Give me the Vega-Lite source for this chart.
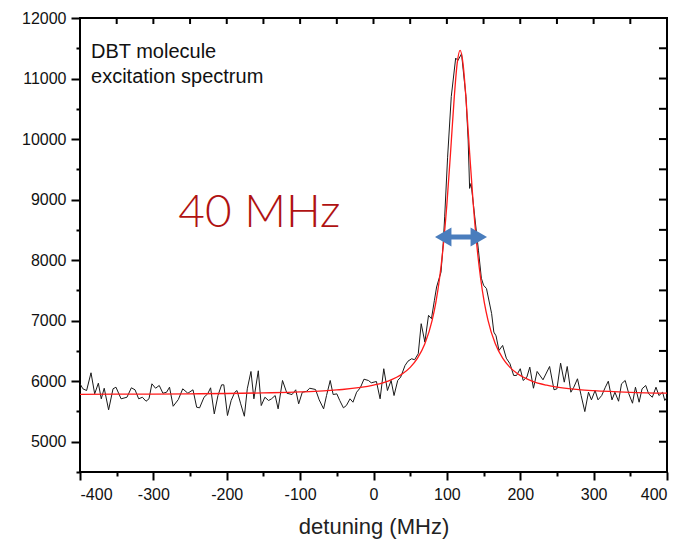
{
  "$schema": "https://vega.github.io/schema/vega-lite/v6.json",
  "width": 587,
  "height": 454,
  "autosize": "none",
  "padding": {"left": 80, "top": 18, "right": 16, "bottom": 68},
  "background": "white",
  "config": {
    "view": {"stroke": "#000", "strokeWidth": 2},
    "axis": {"domain": false, "grid": false, "tickColor": "#000", "labelColor": "#111", "labelFont": "Liberation Sans", "titleFont": "Liberation Sans", "titleFontWeight": "normal", "titleColor": "#222", "labelExpr": "'' + datum.value"}
  },
  "datasets": {
    "spec": [
      {"d": -400, "v": 5957}, {"d": -396, "v": 5874}, {"d": -391, "v": 5846}, {"d": -385, "v": 6139}, {"d": -380, "v": 5791},
      {"d": -375, "v": 5967}, {"d": -371, "v": 5709}, {"d": -367, "v": 5884}, {"d": -361, "v": 5527}, {"d": -355, "v": 5874},
      {"d": -351, "v": 5901}, {"d": -344, "v": 5709}, {"d": -336, "v": 5735}, {"d": -330, "v": 5891}, {"d": -325, "v": 5858},
      {"d": -320, "v": 5709}, {"d": -315, "v": 5735}, {"d": -310, "v": 5669}, {"d": -306, "v": 5709}, {"d": -302, "v": 5957},
      {"d": -297, "v": 5884}, {"d": -292, "v": 5929}, {"d": -287, "v": 5801}, {"d": -282, "v": 5818}, {"d": -278, "v": 5901},
      {"d": -273, "v": 5586}, {"d": -266, "v": 5697}, {"d": -260, "v": 5874}, {"d": -253, "v": 5801}, {"d": -246, "v": 5858},
      {"d": -241, "v": 5570}, {"d": -237, "v": 5560}, {"d": -231, "v": 5735}, {"d": -226, "v": 5791}, {"d": -222, "v": 5891},
      {"d": -217, "v": 5460}, {"d": -212, "v": 5763}, {"d": -207, "v": 5940}, {"d": -204, "v": 5940}, {"d": -199, "v": 5433},
      {"d": -194, "v": 5681}, {"d": -189, "v": 5818}, {"d": -186, "v": 5846}, {"d": -181, "v": 5626}, {"d": -176, "v": 5421},
      {"d": -172, "v": 5874}, {"d": -167, "v": 6161}, {"d": -163, "v": 5709}, {"d": -157, "v": 6172}, {"d": -153, "v": 5598},
      {"d": -148, "v": 5735}, {"d": -143, "v": 5681}, {"d": -139, "v": 5709}, {"d": -134, "v": 5763}, {"d": -130, "v": 5543},
      {"d": -124, "v": 6012}, {"d": -118, "v": 5801}, {"d": -111, "v": 5780}, {"d": -106, "v": 5858}, {"d": -102, "v": 5626},
      {"d": -97, "v": 5818}, {"d": -91, "v": 5834}, {"d": -87, "v": 5884}, {"d": -79, "v": 5863}, {"d": -74, "v": 5692},
      {"d": -68, "v": 5543}, {"d": -64, "v": 5763}, {"d": -59, "v": 6012}, {"d": -55, "v": 5780}, {"d": -50, "v": 5791},
      {"d": -46, "v": 5681}, {"d": -41, "v": 5560}, {"d": -37, "v": 5598}, {"d": -32, "v": 5709}, {"d": -28, "v": 5653},
      {"d": -23, "v": 5818}, {"d": -18, "v": 5891}, {"d": -13, "v": 6033}, {"d": -7, "v": 6012}, {"d": -3, "v": 5974},
      {"d": 4, "v": 5995}, {"d": 9, "v": 5709}, {"d": 14, "v": 6206}, {"d": 19, "v": 5846}, {"d": 24, "v": 6012},
      {"d": 28, "v": 5763}, {"d": 33, "v": 6012}, {"d": 37, "v": 6067}, {"d": 43, "v": 6260}, {"d": 47, "v": 6331},
      {"d": 52, "v": 6371}, {"d": 56, "v": 6354}, {"d": 61, "v": 6454}, {"d": 65, "v": 6950}, {"d": 70, "v": 6646},
      {"d": 75, "v": 7088}, {"d": 79, "v": 7033}, {"d": 83, "v": 7336}, {"d": 86, "v": 7556}, {"d": 90, "v": 7722},
      {"d": 92, "v": 7800}, {"d": 95, "v": 8275}, {"d": 97, "v": 8715}, {"d": 101, "v": 9700}, {"d": 106, "v": 10702},
      {"d": 112, "v": 11338}, {"d": 115, "v": 11298}, {"d": 120, "v": 11409}, {"d": 126, "v": 10702}, {"d": 129, "v": 9985},
      {"d": 131, "v": 9185}, {"d": 133, "v": 9268}, {"d": 138, "v": 8715}, {"d": 143, "v": 8164}, {"d": 147, "v": 7700},
      {"d": 150, "v": 7585}, {"d": 154, "v": 7530}, {"d": 161, "v": 7116}, {"d": 164, "v": 6811}, {"d": 167, "v": 6750},
      {"d": 171, "v": 6508}, {"d": 176, "v": 6591}, {"d": 181, "v": 6380}, {"d": 186, "v": 6288}, {"d": 191, "v": 6095},
      {"d": 195, "v": 6095}, {"d": 200, "v": 6206}, {"d": 204, "v": 6012}, {"d": 209, "v": 6067}, {"d": 213, "v": 6232},
      {"d": 218, "v": 5884}, {"d": 223, "v": 6161}, {"d": 231, "v": 6023}, {"d": 240, "v": 6243}, {"d": 246, "v": 5858},
      {"d": 250, "v": 5874}, {"d": 255, "v": 6298}, {"d": 260, "v": 5984}, {"d": 264, "v": 6243}, {"d": 269, "v": 5818},
      {"d": 273, "v": 5901}, {"d": 278, "v": 6040}, {"d": 283, "v": 5763}, {"d": 288, "v": 5498}, {"d": 293, "v": 5818},
      {"d": 297, "v": 5692}, {"d": 302, "v": 5846}, {"d": 306, "v": 5692}, {"d": 311, "v": 5763}, {"d": 316, "v": 5901},
      {"d": 320, "v": 6000}, {"d": 325, "v": 5692}, {"d": 329, "v": 5818}, {"d": 334, "v": 5669}, {"d": 338, "v": 5957},
      {"d": 343, "v": 6012}, {"d": 348, "v": 5791}, {"d": 353, "v": 5636}, {"d": 357, "v": 5901}, {"d": 362, "v": 5653},
      {"d": 366, "v": 5874}, {"d": 371, "v": 5929}, {"d": 375, "v": 5791}, {"d": 380, "v": 5735}, {"d": 385, "v": 5901},
      {"d": 389, "v": 5763}, {"d": 394, "v": 5818}, {"d": 397, "v": 5681}, {"d": 400, "v": 5735}
    ],
    "fit": [
      {"d": -400, "v": 5783}, {"d": -350, "v": 5785}, {"d": -300, "v": 5788}, {"d": -250, "v": 5792}, {"d": -200, "v": 5797},
      {"d": -150, "v": 5807}, {"d": -100, "v": 5822}, {"d": -50, "v": 5855}, {"d": 0, "v": 5934}, {"d": 20, "v": 6002},
      {"d": 40, "v": 6126}, {"d": 50, "v": 6228}, {"d": 60, "v": 6380}, {"d": 70, "v": 6617}, {"d": 80, "v": 7009},
      {"d": 85, "v": 7303}, {"d": 90, "v": 7697}, {"d": 95, "v": 8225}, {"d": 100, "v": 8919}, {"d": 105, "v": 9775},
      {"d": 110, "v": 10680}, {"d": 114, "v": 11246}, {"d": 118, "v": 11465}, {"d": 122, "v": 11246}, {"d": 126, "v": 10680},
      {"d": 131, "v": 9775}, {"d": 136, "v": 8919}, {"d": 141, "v": 8225}, {"d": 146, "v": 7697}, {"d": 151, "v": 7303},
      {"d": 156, "v": 7009}, {"d": 166, "v": 6617}, {"d": 176, "v": 6380}, {"d": 186, "v": 6228}, {"d": 196, "v": 6126},
      {"d": 216, "v": 6002}, {"d": 236, "v": 5934}, {"d": 260, "v": 5886}, {"d": 280, "v": 5860}, {"d": 300, "v": 5843},
      {"d": 350, "v": 5817}, {"d": 400, "v": 5803}
    ],
    "topticks": [
      {"x": -350, "y": 12000}, {"x": -300, "y": 12000}, {"x": -250, "y": 12000}, {"x": -200, "y": 12000}, {"x": -150, "y": 12000},
      {"x": -100, "y": 12000}, {"x": -50, "y": 12000}, {"x": 0, "y": 12000}, {"x": 50, "y": 12000}, {"x": 100, "y": 12000},
      {"x": 150, "y": 12000}, {"x": 200, "y": 12000}, {"x": 250, "y": 12000}, {"x": 300, "y": 12000}, {"x": 350, "y": 12000}
    ],
    "rightticks": [
      {"x": 400, "y": 5000}, {"x": 400, "y": 5500}, {"x": 400, "y": 6000}, {"x": 400, "y": 6500}, {"x": 400, "y": 7000},
      {"x": 400, "y": 7500}, {"x": 400, "y": 8000}, {"x": 400, "y": 8500}, {"x": 400, "y": 9000}, {"x": 400, "y": 9500},
      {"x": 400, "y": 10000}, {"x": 400, "y": 10500}, {"x": 400, "y": 11000}, {"x": 400, "y": 11500}
    ],
    "shaft": [{"x": 95, "y": 8384}, {"x": 144, "y": 8384}],
    "headl": [{"x": 95, "y": 8384}],
    "headr": [{"x": 143.5, "y": 8384}],
    "notes": [{"x": -385, "y": 11338, "t": "DBT molecule"}, {"x": -385, "y": 10924, "t": "excitation spectrum"}],
    "big": [{"x": -266, "y": 8550, "t": "40 MHz"}]
  },
  "resolve": {"scale": {"x": "independent", "y": "independent"}, "axis": {"x": "independent", "y": "independent"}},
  "layer": [
    {
      "data": {"name": "spec"},
      "mark": {"type": "line", "color": "#1a1a1a", "strokeWidth": 1, "clip": true},
      "encoding": {
        "x": {"field": "d", "type": "quantitative", "scale": {"domain": [-400, 400], "nice": false, "zero": false},
          "axis": {"orient": "bottom", "values": [-350, -250, -150, -50, 50, 150, 250, 350], "labels": false, "tickSize": 4, "tickWidth": 2, "tickColor": "#000", "title": null}},
        "y": {"field": "v", "type": "quantitative", "scale": {"domain": [4500, 12000], "nice": false, "zero": false},
          "axis": {"orient": "left", "values": [4500, 5500, 6500, 7500, 8500, 9500, 10500, 11500], "labels": false, "tickSize": 4, "tickWidth": 2, "tickColor": "#000", "title": null}}
      }
    },
    {
      "data": {"name": "fit"},
      "mark": {"type": "line", "color": "#ff1a1a", "strokeWidth": 1.3, "interpolate": "monotone", "clip": true},
      "encoding": {
        "x": {"field": "d", "type": "quantitative", "scale": {"domain": [-400, 400], "nice": false, "zero": false},
          "axis": {"orient": "bottom", "values": [-400, -300, -200, -100, 0, 100, 200, 300, 400], "tickSize": 8, "tickWidth": 2, "labelFontSize": 16, "labelPadding": 6, "title": "detuning (MHz)", "titleFontSize": 22, "titlePadding": 14}},
        "y": {"field": "v", "type": "quantitative", "scale": {"domain": [4500, 12000], "nice": false, "zero": false},
          "axis": {"orient": "left", "values": [5000, 6000, 7000, 8000, 9000, 10000, 11000, 12000], "tickSize": 9, "tickWidth": 2, "labelFontSize": 16, "labelPadding": 5, "title": null}}
      }
    },
    {
      "data": {"name": "topticks"},
      "mark": {"type": "tick", "orient": "vertical", "size": 12, "thickness": 2, "color": "#000", "opacity": 1, "clip": true},
      "encoding": {
        "x": {"field": "x", "type": "quantitative", "scale": {"domain": [-400, 400], "nice": false, "zero": false}, "axis": null},
        "y": {"field": "y", "type": "quantitative", "scale": {"domain": [4500, 12000], "nice": false, "zero": false}, "axis": null}
      }
    },
    {
      "data": {"name": "rightticks"},
      "mark": {"type": "tick", "orient": "horizontal", "size": 16, "thickness": 2, "color": "#000", "opacity": 1, "clip": true},
      "encoding": {
        "x": {"field": "x", "type": "quantitative", "scale": {"domain": [-400, 400], "nice": false, "zero": false}, "axis": null},
        "y": {"field": "y", "type": "quantitative", "scale": {"domain": [4500, 12000], "nice": false, "zero": false}, "axis": null}
      }
    },
    {
      "data": {"name": "shaft"},
      "mark": {"type": "line", "color": "#4a7dbd", "strokeWidth": 5, "clip": true},
      "encoding": {
        "x": {"field": "x", "type": "quantitative", "scale": {"domain": [-400, 400], "nice": false, "zero": false}, "axis": null},
        "y": {"field": "y", "type": "quantitative", "scale": {"domain": [4500, 12000], "nice": false, "zero": false}, "axis": null}
      }
    },
    {
      "data": {"name": "headl"},
      "mark": {"type": "point", "shape": "triangle-left", "filled": true, "color": "#4a7dbd", "opacity": 1, "size": 360},
      "encoding": {
        "x": {"field": "x", "type": "quantitative", "scale": {"domain": [-400, 400], "nice": false, "zero": false}, "axis": null},
        "y": {"field": "y", "type": "quantitative", "scale": {"domain": [4500, 12000], "nice": false, "zero": false}, "axis": null}
      }
    },
    {
      "data": {"name": "headr"},
      "mark": {"type": "point", "shape": "triangle-right", "filled": true, "color": "#4a7dbd", "opacity": 1, "size": 360},
      "encoding": {
        "x": {"field": "x", "type": "quantitative", "scale": {"domain": [-400, 400], "nice": false, "zero": false}, "axis": null},
        "y": {"field": "y", "type": "quantitative", "scale": {"domain": [4500, 12000], "nice": false, "zero": false}, "axis": null}
      }
    },
    {
      "data": {"name": "notes"},
      "mark": {"type": "text", "align": "left", "baseline": "alphabetic", "font": "Liberation Sans", "fontSize": 20, "color": "#111"},
      "encoding": {
        "x": {"field": "x", "type": "quantitative", "scale": {"domain": [-400, 400], "nice": false, "zero": false}, "axis": null},
        "y": {"field": "y", "type": "quantitative", "scale": {"domain": [4500, 12000], "nice": false, "zero": false}, "axis": null},
        "text": {"field": "t"}
      }
    },
    {
      "data": {"name": "big"},
      "mark": {"type": "text", "align": "left", "baseline": "alphabetic", "font": "Lato", "fontWeight": 300, "fontSize": 46, "color": "#b01212"},
      "encoding": {
        "x": {"field": "x", "type": "quantitative", "scale": {"domain": [-400, 400], "nice": false, "zero": false}, "axis": null},
        "y": {"field": "y", "type": "quantitative", "scale": {"domain": [4500, 12000], "nice": false, "zero": false}, "axis": null},
        "text": {"field": "t"}
      }
    }
  ]
}
